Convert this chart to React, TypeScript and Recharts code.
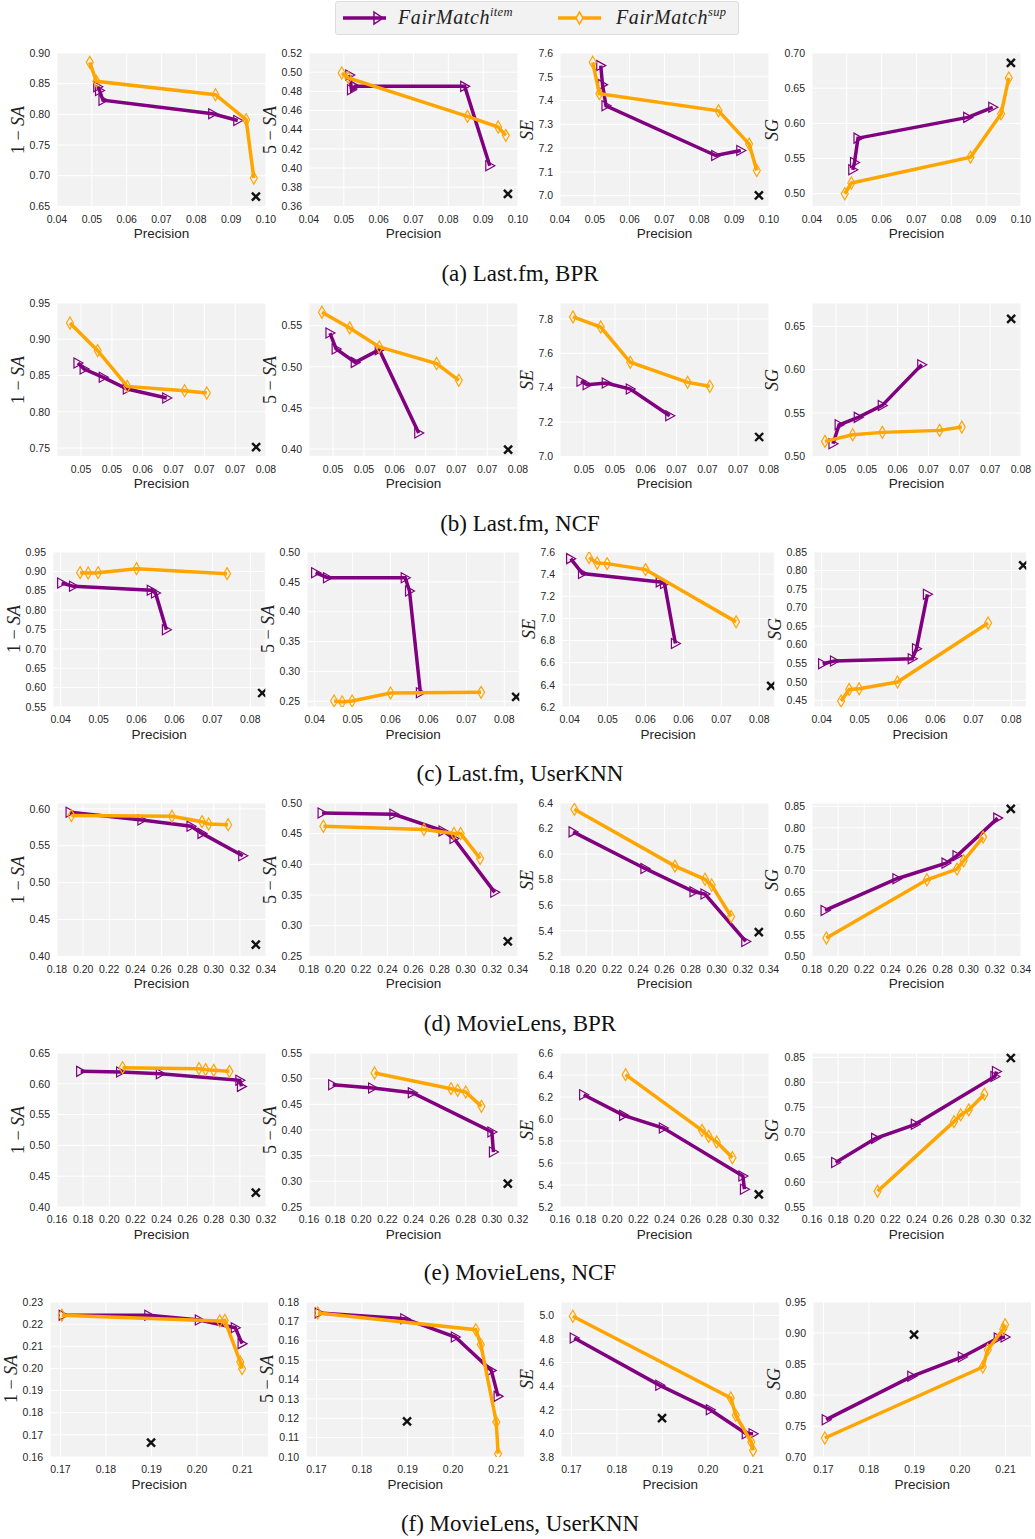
import React from "react";
import { ScatterChart, Scatter, XAxis, YAxis, CartesianGrid } from "recharts";

const PURPLE = "#800080";
const ORANGE = "#FFA500";
const SANS = "'Liberation Sans', Arial, sans-serif";
const SERIF = "'Liberation Serif', 'Times New Roman', serif";

// ---- data (precision on x, metric on y) ----
// columns: 1-SA, 5-SA, SE, SG

// (a) Last.fm, BPR
const lfmBprItemPrec = [0.0517, 0.0522, 0.0532, 0.0847, 0.0919];
const lfmBprSupPrec = [0.0494, 0.0513, 0.0855, 0.0943, 0.0965];
const lfmBprBasePrec = 0.0971;
const lfmBprItem = [
  [0.845, 0.839, 0.823, 0.801, 0.79],
  [0.497, 0.4817, 0.4852, 0.4852, 0.4024],
  [7.547, 7.467, 7.378, 7.169, 7.19],
  [0.534, 0.5445, 0.579, 0.6085, 0.6228],
];
const lfmBprSup = [
  [0.8848, 0.8538, 0.832, 0.7913, 0.6962],
  [0.4991, 0.494, 0.4539, 0.4428, 0.4341],
  [7.561, 7.429, 7.357, 7.217, 7.106],
  [0.5, 0.5152, 0.552, 0.6137, 0.6645],
];
const lfmBprBase = [0.666, 0.373, 7.001, 0.686];

// (b) Last.fm, NCF
const lfmNcfItemPrec = [0.0495, 0.0505, 0.0536, 0.0575, 0.0639];
const lfmNcfSupPrec = [0.0482, 0.0527, 0.0575, 0.0668, 0.0704];
const lfmNcfBasePrec = 0.0784;
const lfmNcfItem = [
  [0.8672, 0.859, 0.8475, 0.8314, 0.819],
  [0.5411, 0.5217, 0.5054, 0.5209, 0.4196],
  [7.437, 7.417, 7.427, 7.392, 7.237],
  [0.5146, 0.5365, 0.545, 0.5588, 0.6058],
];
const lfmNcfSup = [
  [0.9224, 0.8843, 0.835, 0.8291, 0.8259],
  [0.5663, 0.5473, 0.5241, 0.504, 0.4836],
  [7.812, 7.753, 7.548, 7.431, 7.408],
  [0.5173, 0.525, 0.5277, 0.53, 0.5338],
];
const lfmNcfBase = [0.7514, 0.3993, 7.113, 0.6585];

// (c) Last.fm, UserKNN
const lfmKnnItemPrec = [0.0402, 0.0427, 0.0591, 0.06, 0.0623];
const lfmKnnSupPrec = [0.0441, 0.0458, 0.0479, 0.056, 0.0751];
const lfmKnnBasePrec = 0.0825;
const lfmKnnItem = [
  [0.87, 0.8614, 0.8511, 0.8442, 0.7496],
  [0.4654, 0.457, 0.457, 0.4347, 0.2645],
  [7.54, 7.405, 7.33, 7.315, 6.774],
  [0.5487, 0.5559, 0.5622, 0.5892, 0.7358],
];
const lfmKnnSup = [
  [0.8967, 0.8958, 0.8967, 0.907, 0.8941],
  [0.2506, 0.2489, 0.2506, 0.2639, 0.265],
  [7.549, 7.501, 7.495, 7.441, 6.969],
  [0.448, 0.4795, 0.4813, 0.4993, 0.6585],
];
const lfmKnnBase = [0.5861, 0.2573, 6.39, 0.814];

// (d) MovieLens, BPR
const mlBprItemPrec = [0.19, 0.245, 0.2826, 0.291, 0.3222];
const mlBprSupPrec = [0.191, 0.268, 0.291, 0.2961, 0.311];
const mlBprBasePrec = 0.3322;
const mlBprItem = [
  [0.5955, 0.585, 0.5764, 0.5668, 0.5364],
  [0.4838, 0.4816, 0.4545, 0.4421, 0.3544],
  [6.174, 5.888, 5.706, 5.688, 5.317],
  [0.6073, 0.6812, 0.7177, 0.7348, 0.8227],
];
const mlBprSup = [
  [0.5909, 0.59, 0.5827, 0.5795, 0.5786],
  [0.4621, 0.4567, 0.4502, 0.4502, 0.4096],
  [6.351, 5.906, 5.803, 5.758, 5.512],
  [0.5428, 0.6789, 0.7037, 0.7232, 0.7784],
];
const mlBprBase = [0.4159, 0.2744, 5.39, 0.8445];

// (e) MovieLens, NCF
const mlNcfItemPrec = [0.1781, 0.2087, 0.2391, 0.3, 0.3012];
const mlNcfSupPrec = [0.2102, 0.2687, 0.2738, 0.28, 0.292];
const mlNcfBasePrec = 0.3122;
const mlNcfItem = [
  [0.6202, 0.6191, 0.6164, 0.6056, 0.5958],
  [0.4883, 0.4818, 0.4727, 0.3961, 0.3571],
  [6.221, 6.033, 5.918, 5.482, 5.361],
  [0.6393, 0.6876, 0.7158, 0.8117, 0.8218],
];
const mlNcfSup = [
  [0.6262, 0.6246, 0.623, 0.6218, 0.6202],
  [0.511, 0.4805, 0.4773, 0.474, 0.4461],
  [6.403, 5.897, 5.842, 5.791, 5.648],
  [0.5815, 0.7211, 0.7346, 0.7446, 0.7762],
];
const mlNcfBase = [0.4233, 0.2955, 5.315, 0.8487];

// (f) MovieLens, UserKNN
const mlKnnItemPrec = [0.1706, 0.1894, 0.2005, 0.2084, 0.2099];
const mlKnnSupPrec = [0.1703, 0.205, 0.2061, 0.2095, 0.2099];
const mlKnnBasePrec = 0.1899;
const mlKnnItem = [
  [0.224, 0.224, 0.2219, 0.2184, 0.2112],
  [0.1743, 0.1714, 0.1619, 0.1447, 0.1313],
  [4.808, 4.407, 4.2, 3.997, 3.997],
  [0.7602, 0.8301, 0.8613, 0.892, 0.8935],
];
const mlKnnSup = [
  [0.224, 0.2214, 0.2217, 0.2029, 0.1999],
  [0.1743, 0.1657, 0.1581, 0.1181, 0.1017],
  [4.992, 4.3, 4.153, 3.927, 3.856],
  [0.7306, 0.8452, 0.8731, 0.9065, 0.9135],
];
const mlKnnBase = [0.1665, 0.1184, 4.129, 0.8973];

// ---- axis ticks ----
const xTicksA = [0.04, 0.05, 0.06, 0.07, 0.08, 0.09, 0.1];
const xLabelsA = ["0.04", "0.05", "0.06", "0.07", "0.08", "0.09", "0.10"];
const xTicksB = [0.05, 0.055, 0.06, 0.065, 0.07, 0.075, 0.08];
const xLabelsB = ["0.05", "0.05", "0.06", "0.07", "0.07", "0.07", "0.08"];
const xTicksC = [0.04, 0.048, 0.056, 0.064, 0.072, 0.08];
const xLabelsC = ["0.04", "0.05", "0.06", "0.06", "0.07", "0.08"];
const xTicksD = [0.18, 0.2, 0.22, 0.24, 0.26, 0.28, 0.3, 0.32, 0.34];
const xLabelsD = ["0.18", "0.20", "0.22", "0.24", "0.26", "0.28", "0.30", "0.32", "0.34"];
const xTicksE = [0.16, 0.18, 0.2, 0.22, 0.24, 0.26, 0.28, 0.3, 0.32];
const xLabelsE = ["0.16", "0.18", "0.20", "0.22", "0.24", "0.26", "0.28", "0.30", "0.32"];
const xTicksF = [0.17, 0.18, 0.19, 0.2, 0.21];
const xLabelsF = ["0.17", "0.18", "0.19", "0.20", "0.21"];

const yTicksA = [
  [0.65, 0.7, 0.75, 0.8, 0.85, 0.9],
  [0.36, 0.38, 0.4, 0.42, 0.44, 0.46, 0.48, 0.5, 0.52],
  [7.0, 7.1, 7.2, 7.3, 7.4, 7.5, 7.6],
  [0.5, 0.55, 0.6, 0.65, 0.7],
];
const yTicksB = [
  [0.75, 0.8, 0.85, 0.9, 0.95],
  [0.4, 0.45, 0.5, 0.55],
  [7.0, 7.2, 7.4, 7.6, 7.8],
  [0.5, 0.55, 0.6, 0.65],
];
const yTicksC = [
  [0.55, 0.6, 0.65, 0.7, 0.75, 0.8, 0.85, 0.9, 0.95],
  [0.25, 0.3, 0.35, 0.4, 0.45, 0.5],
  [6.2, 6.4, 6.6, 6.8, 7.0, 7.2, 7.4, 7.6],
  [0.45, 0.5, 0.55, 0.6, 0.65, 0.7, 0.75, 0.8, 0.85],
];
const yTicksD = [
  [0.4, 0.45, 0.5, 0.55, 0.6],
  [0.25, 0.3, 0.35, 0.4, 0.45, 0.5],
  [5.2, 5.4, 5.6, 5.8, 6.0, 6.2, 6.4],
  [0.5, 0.55, 0.6, 0.65, 0.7, 0.75, 0.8, 0.85],
];
const yTicksE = [
  [0.4, 0.45, 0.5, 0.55, 0.6, 0.65],
  [0.25, 0.3, 0.35, 0.4, 0.45, 0.5, 0.55],
  [5.2, 5.4, 5.6, 5.8, 6.0, 6.2, 6.4, 6.6],
  [0.55, 0.6, 0.65, 0.7, 0.75, 0.8, 0.85],
];
const yTicksF = [
  [0.16, 0.17, 0.18, 0.19, 0.2, 0.21, 0.22, 0.23],
  [0.1, 0.11, 0.12, 0.13, 0.14, 0.15, 0.16, 0.17, 0.18],
  [3.8, 4.0, 4.2, 4.4, 4.6, 4.8, 5.0],
  [0.7, 0.75, 0.8, 0.85, 0.9, 0.95],
];

// ---- layout (plot-area rectangles in page pixels) ----
type Row = {
  caption: string;
  captionY: number;
  top: number;
  height: number;
  lefts: number[];
  width: number;
  xDomain: [number, number];
  xTicks: number[];
  xLabels: string[];
  yDomains: [number, number][];
  yTicks: number[][];
  itemPrec: number[];
  supPrec: number[];
  basePrec: number;
  item: number[][];
  sup: number[][];
  base: number[];
};

const ROWS: Row[] = [
  {
    caption: "(a) Last.fm, BPR", captionY: 274, top: 53.3, height: 153.4,
    lefts: [57, 309.3, 560, 811.7], width: 209,
    xDomain: [0.04, 0.1], xTicks: xTicksA, xLabels: xLabelsA,
    yDomains: [[0.65, 0.9], [0.36, 0.52], [6.955, 7.6], [0.482, 0.7]], yTicks: yTicksA,
    itemPrec: lfmBprItemPrec, supPrec: lfmBprSupPrec, basePrec: lfmBprBasePrec,
    item: lfmBprItem, sup: lfmBprSup, base: lfmBprBase,
  },
  {
    caption: "(b) Last.fm, NCF", captionY: 524, top: 303.3, height: 153.4,
    lefts: [57, 309.3, 560, 811.7], width: 209,
    xDomain: [0.0461, 0.08], xTicks: xTicksB, xLabels: xLabelsB,
    yDomains: [[0.7385, 0.95], [0.3911, 0.5776], [7.0, 7.893], [0.5, 0.6769]], yTicks: yTicksB,
    itemPrec: lfmNcfItemPrec, supPrec: lfmNcfSupPrec, basePrec: lfmNcfBasePrec,
    item: lfmNcfItem, sup: lfmNcfSup, base: lfmNcfBase,
  },
  {
    caption: "(c) Last.fm, UserKNN", captionY: 774, top: 551.7, height: 155,
    lefts: [53.3, 307.3, 562.3, 814], width: 212.3,
    xDomain: [0.03838, 0.08316], xTicks: xTicksC, xLabels: xLabelsC,
    yDomains: [[0.55, 0.95], [0.2405, 0.5], [6.2, 7.6], [0.432, 0.85]], yTicks: yTicksC,
    itemPrec: lfmKnnItemPrec, supPrec: lfmKnnSupPrec, basePrec: lfmKnnBasePrec,
    item: lfmKnnItem, sup: lfmKnnSup, base: lfmKnnBase,
  },
  {
    caption: "(d) MovieLens, BPR", captionY: 1024, top: 803.3, height: 153.4,
    lefts: [57, 309.3, 560, 811.7], width: 209,
    xDomain: [0.18, 0.34], xTicks: xTicksD, xLabels: xLabelsD,
    yDomains: [[0.4, 0.608], [0.25, 0.5], [5.2, 6.4], [0.5, 0.858]], yTicks: yTicksD,
    itemPrec: mlBprItemPrec, supPrec: mlBprSupPrec, basePrec: mlBprBasePrec,
    item: mlBprItem, sup: mlBprSup, base: mlBprBase,
  },
  {
    caption: "(e) MovieLens, NCF", captionY: 1273, top: 1052.7, height: 154,
    lefts: [57, 309.3, 560, 811.7], width: 209,
    xDomain: [0.16, 0.32], xTicks: xTicksE, xLabels: xLabelsE,
    yDomains: [[0.4, 0.65], [0.25, 0.55], [5.2, 6.6], [0.55, 0.8587]], yTicks: yTicksE,
    itemPrec: mlNcfItemPrec, supPrec: mlNcfSupPrec, basePrec: mlNcfBasePrec,
    item: mlNcfItem, sup: mlNcfSup, base: mlNcfBase,
  },
  {
    caption: "(f) MovieLens, UserKNN", captionY: 1524, top: 1301.7, height: 155,
    lefts: [50, 306.4, 560.5, 813.4], width: 218.5,
    xDomain: [0.1677, 0.2157], xTicks: xTicksF, xLabels: xLabelsF,
    yDomains: [[0.16, 0.23], [0.1, 0.18], [3.8, 5.113], [0.7, 0.95]], yTicks: yTicksF,
    itemPrec: mlKnnItemPrec, supPrec: mlKnnSupPrec, basePrec: mlKnnBasePrec,
    item: mlKnnItem, sup: mlKnnSup, base: mlKnnBase,
  },
];

const Y_LABELS: React.ReactNode[] = [
  <><span>1 − </span><i>SA</i></>,
  <><span>5 − </span><i>SA</i></>,
  <i>SE</i>,
  <i>SG</i>,
];
const Y_DIGITS = [2, 2, 1, 2];

const zip = (xs: number[], ys: number[]) => xs.map((x, i) => ({ x, y: ys[i] }));

const Tri = (p: any) => (
  <polygon
    points={`${p.cx - 4},${p.cy - 5} ${p.cx + 5},${p.cy} ${p.cx - 4},${p.cy + 5}`}
    fill="none"
    stroke={PURPLE}
    strokeWidth={1.2}
  />
);

const Dia = (p: any) => (
  <polygon
    points={`${p.cx},${p.cy - 6} ${p.cx + 3.5},${p.cy} ${p.cx},${p.cy + 6} ${p.cx - 3.5},${p.cy}`}
    fill="none"
    stroke={ORANGE}
    strokeWidth={1.2}
  />
);

const Cross = (p: any) => (
  <g stroke="#111" strokeWidth={2.4}>
    <line x1={p.cx - 4} y1={p.cy - 4} x2={p.cx + 4} y2={p.cy + 4} />
    <line x1={p.cx - 4} y1={p.cy + 4} x2={p.cx + 4} y2={p.cy - 4} />
  </g>
);

const tickStyle = { fill: "#262626", fontSize: 10.5, fontFamily: SANS };

function Panel({ row, col }: { row: Row; col: number }) {
  const L = 60, T = 8, R = 18, B = 36;
  const left = row.lefts[col];
  const { top, width, height } = row;
  const yTicks = row.yTicks[col];
  const digits = Y_DIGITS[col];
  const maxLabel = Math.max(...yTicks.map((t) => t.toFixed(digits).length));
  const labelX = left - 7 - (maxLabel - 1) * 5.8 - 2.9 - 12;
  const item = zip(row.itemPrec, row.item[col]);
  const sup = zip(row.supPrec, row.sup[col]);
  const base = [{ x: row.basePrec, y: row.base[col] }];
  const fmtX = (v: number) => {
    const i = row.xTicks.findIndex((t) => Math.abs(t - v) < 1e-9);
    return i >= 0 ? row.xLabels[i] : "";
  };

  return (
    <>
      <div style={{ position: "absolute", left: left - L, top: top - T }}>
        <ScatterChart
          width={width + L + R}
          height={height + T + B}
          margin={{ top: T, right: R, bottom: 0, left: 0 }}
        >
          <CartesianGrid fill="#f2f2f2" stroke="#ffffff" strokeWidth={1} />
          <XAxis
            type="number"
            dataKey="x"
            domain={row.xDomain}
            ticks={row.xTicks}
            interval={0}
            allowDataOverflow
            height={B}
            axisLine={false}
            tickLine={false}
            tickSize={0}
            tickMargin={9}
            tick={tickStyle}
            tickFormatter={fmtX}
            label={{
              value: "Precision",
              position: "insideBottom",
              offset: 4,
              fill: "#222",
              fontSize: 13.5,
              fontFamily: SANS,
            }}
          />
          <YAxis
            type="number"
            dataKey="y"
            domain={row.yDomains[col]}
            ticks={yTicks}
            interval={0}
            allowDataOverflow
            width={L}
            axisLine={false}
            tickLine={false}
            tickSize={0}
            tickMargin={7}
            tick={tickStyle}
            tickFormatter={(v: number) => v.toFixed(digits)}
          />
          <Scatter
            data={item}
            line={{ stroke: PURPLE, strokeWidth: 3.5 }}
            lineJointType="linear"
            shape={Tri}
            isAnimationActive={false}
          />
          <Scatter
            data={sup}
            line={{ stroke: ORANGE, strokeWidth: 3.5 }}
            lineJointType="linear"
            shape={Dia}
            isAnimationActive={false}
          />
          <Scatter data={base} shape={Cross} isAnimationActive={false} />
        </ScatterChart>
      </div>
      <div
        style={{
          position: "absolute",
          left: labelX - 60,
          top: top + height / 2 - 10,
          width: 120,
          height: 20,
          lineHeight: "20px",
          textAlign: "center",
          transform: "rotate(-90deg)",
          fontFamily: SERIF,
          fontSize: 18,
          color: "#222",
          whiteSpace: "nowrap",
        }}
      >
        {Y_LABELS[col]}
      </div>
    </>
  );
}

function Legend() {
  return (
    <div
      style={{
        position: "absolute",
        left: 335,
        top: 1,
        width: 404,
        height: 34,
        background: "#f2f2f2",
        border: "1px solid #dddddd",
        borderRadius: 3,
        boxSizing: "border-box",
      }}
    >
      <svg width={404} height={34} style={{ position: "absolute", left: 0, top: 0 }}>
        <line x1={7} y1={16} x2={50} y2={16} stroke={PURPLE} strokeWidth={3.5} />
        <polygon points="38,10 47,16 38,22" fill="none" stroke={PURPLE} strokeWidth={1.5} />
        <text x={62} y={22} fontFamily={SERIF} fontStyle="italic" fontSize={20} fill="#222" letterSpacing={0.6}>
          FairMatch
          <tspan dy={-8} fontSize={12.5} letterSpacing={0.3}>item</tspan>
        </text>
        <line x1={222} y1={16} x2={265} y2={16} stroke={ORANGE} strokeWidth={3.5} />
        <polygon points="243.5,10 247,16 243.5,22 240,16" fill="#f2f2f2" stroke={ORANGE} strokeWidth={1.5} />
        <text x={280} y={22} fontFamily={SERIF} fontStyle="italic" fontSize={20} fill="#222" letterSpacing={0.6}>
          FairMatch
          <tspan dy={-8} fontSize={12.5} letterSpacing={0.3}>sup</tspan>
        </text>
      </svg>
    </div>
  );
}

export default function App() {
  return (
    <div style={{ position: "relative", width: 1035, height: 1539, background: "#fff", overflow: "hidden" }}>
      <style>{"body{margin:0}"}</style>
      <Legend />
      {ROWS.map((row) => (
        <React.Fragment key={row.caption}>
          {[0, 1, 2, 3].map((c) => (
            <Panel key={c} row={row} col={c} />
          ))}
          <div
            style={{
              position: "absolute",
              left: 0,
              width: 1040,
              top: row.captionY - 13,
              height: 26,
              lineHeight: "26px",
              textAlign: "center",
              fontFamily: SERIF,
              fontSize: 23,
              color: "#111",
            }}
          >
            {row.caption}
          </div>
        </React.Fragment>
      ))}
    </div>
  );
}
